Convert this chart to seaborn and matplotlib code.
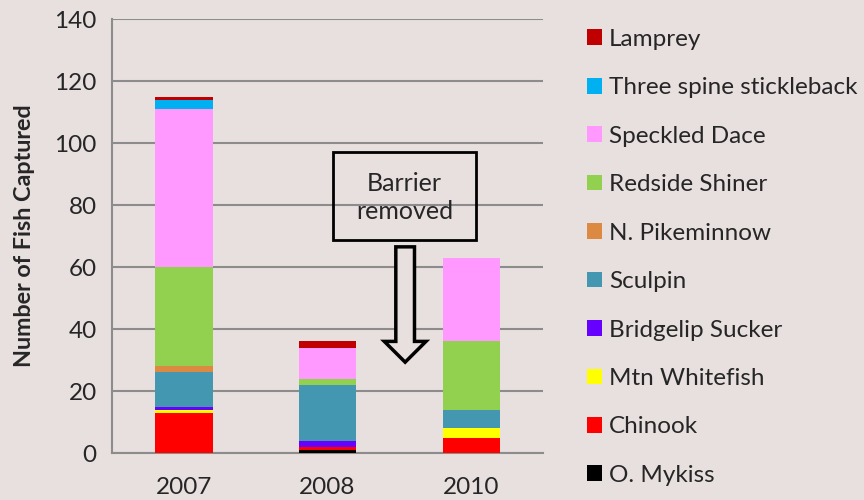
import numpy as np
import pandas as pd
import matplotlib
matplotlib.use("Agg")
import matplotlib.pyplot as plt
import seaborn as sns
from matplotlib.patches import Patch, Rectangle, FancyArrow

# --- datos (de abajo hacia arriba en la pila) ---
years = ["2007", "2008", "2010"]
species = ["O. Mykiss", "Chinook", "Mtn Whitefish", "Bridgelip Sucker", "Sculpin",
           "N. Pikeminnow", "Redside Shiner", "Speckled Dace",
           "Three spine stickleback", "Lamprey"]
o_mykiss = [0, 1, 0]
chinook = [13, 1, 5]
mtn_whitefish = [1, 0, 3]
bridgelip = [1, 2, 0]
sculpin = [11, 18, 6]
pikeminnow = [2, 0, 0]
redside = [32, 2, 22]
speckled = [51, 10, 27]
stickleback = [3, 0, 0]
lamprey = [1, 2, 0]
colors = ["#000000", "#ff0000", "#ffff00", "#6600ff", "#4397b0",
          "#dc8a42", "#92d050", "#ff99ff", "#00b0f0", "#c00000"]

counts = [o_mykiss, chinook, mtn_whitefish, bridgelip, sculpin,
          pikeminnow, redside, speckled, stickleback, lamprey]

bg = "#e8dfdf"
grid_c = "#8c8c8c"
fs = 17.5

sns.set_style("white")
plt.rcParams["font.family"] = ["Lato", "DejaVu Sans"]

fig = plt.figure(figsize=(8.64, 5), dpi=100, facecolor=bg)
ax = fig.add_axes([0.1296, 0.094, 0.499, 0.868])
ax.set_facecolor(bg)

# Pila acumulada: se dibuja de la más alta a la más baja
cum = np.cumsum(np.array(counts), axis=0)
for i in range(len(species) - 1, -1, -1):
    df = pd.DataFrame({"year": years, "n": cum[i]})
    sns.barplot(data=df, x="year", y="n", order=years, color=colors[i],
                saturation=1, width=0.4, linewidth=0, ax=ax, zorder=3)

ax.set_ylim(0, 140)
ax.set_xlim(-0.5, 2.5)
ax.set_yticks(range(0, 141, 20))
ax.yaxis.grid(True, color=grid_c, linewidth=1.5, zorder=0)
ax.set_axisbelow(True)
for s in ["top", "right"]:
    ax.spines[s].set_visible(False)
for s in ["left", "bottom"]:
    ax.spines[s].set_color(grid_c)
    ax.spines[s].set_linewidth(1.5)

ax.tick_params(axis="y", length=6, width=1.5, color=grid_c, labelsize=fs, pad=5)
ax.tick_params(axis="x", which="major", length=0, labelsize=fs, pad=17)
ax.set_xticks([-0.5, 0.5, 1.5, 2.5], minor=True)
ax.tick_params(axis="x", which="minor", length=6, width=1.5, color=grid_c)
ax.set_xlabel("")
ax.set_ylabel("Number of Fish Captured", fontsize=16.8, fontweight="bold", labelpad=14)

# Recuadro y flecha
ax.add_patch(Rectangle((1.036, 68.7), 1.0, 28.3, fill=False, edgecolor="black",
                       linewidth=2, zorder=5))
ax.text(1.536, 82.3, "Barrier\nremoved", ha="center", va="center",
        fontsize=18, linespacing=1.25, zorder=6)
ax.add_patch(FancyArrow(1.54, 66.5, 0, -37.2, width=0.13, head_width=0.29,
                        head_length=6.7, length_includes_head=True,
                        facecolor=bg, edgecolor="black", linewidth=2.5, zorder=5))

# Leyenda (de arriba hacia abajo)
handles = [Patch(facecolor=colors[i], edgecolor="none", label=species[i])
           for i in range(len(species) - 1, -1, -1)]
fig.legend(handles=handles, loc="upper left", bbox_to_anchor=(0.668, 0.962),
           frameon=False, fontsize=fs, handlelength=0.62, handleheight=0.62,
           handletextpad=0.3, labelspacing=1.13, borderaxespad=0)

plt.savefig("out.png", dpi=100, facecolor=bg)
